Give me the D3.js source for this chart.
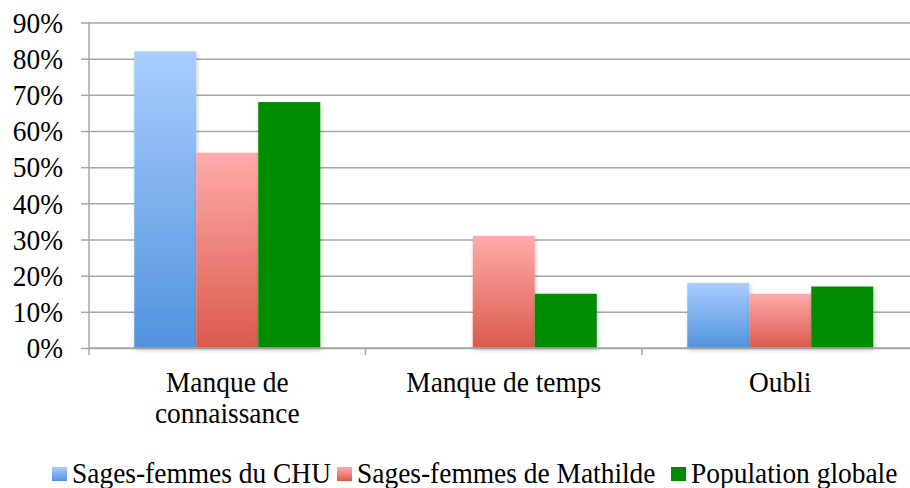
<!DOCTYPE html>
<html><head><meta charset="utf-8">
<script src="https://cdn.jsdelivr.net/npm/d3@7"></script>
<style>body{margin:0;background:#fff}svg{display:block}</style>
</head><body>
<svg id="c" width="910" height="488"></svg>
<script>
const categories = ["Manque de\nconnaissance", "Manque de temps", "Oubli"];
const seriesNames = ["Sages-femmes du CHU", "Sages-femmes de Mathilde", "Population globale"];
const chu = [82, 0, 18];
const mathilde = [54, 31, 15];
const population = [68, 15, 17];
const yTicks = [0, 10, 20, 30, 40, 50, 60, 70, 80, 90];

(function () {
const FONT = "Liberation Serif";
const svg = d3.select("#c");
let w = 0;
seriesNames.forEach(n => {
  const probe = svg.append("text").attr("font-family", FONT).attr("font-size", 20).text(n);
  w += probe.node().getComputedTextLength();
  probe.remove();
});
const fs = 20 * 764 / w;
const ky = Math.max(1, 19.5 / (0.66 * fs));

const pL = 89, pR = 918.5, pT = 22.5, pB = 348;
const x = d3.scaleBand().domain(categories).range([pL, pR]).paddingInner(0).paddingOuter(0);
const y = d3.scaleLinear().domain([0, 90]).range([pB, pT]);
const xs = d3.scaleBand().domain(seriesNames).range([0, x.bandwidth()]).paddingInner(0).paddingOuter(0.73);

const defs = svg.append("defs");
function grad(id, c1, c2) {
  const g = defs.append("linearGradient").attr("id", id).attr("x1", 0).attr("y1", 0).attr("x2", 0).attr("y2", 1);
  g.append("stop").attr("offset", "0%").attr("stop-color", c1);
  g.append("stop").attr("offset", "100%").attr("stop-color", c2);
}
grad("gBlue", "#aacdff", "#5193dc");
grad("gRed", "#ffabab", "#da5a4c");
grad("gGreen", "#008c00", "#008c00");
const f = defs.append("filter").attr("id", "sh").attr("x", "-20%").attr("y", "-20%").attr("width", "140%").attr("height", "140%");
f.append("feDropShadow").attr("dx", 1).attr("dy", 2).attr("stdDeviation", 2).attr("flood-color", "#000").attr("flood-opacity", 0.22);

const fills = ["url(#gBlue)", "url(#gRed)", "url(#gGreen)"];
const legendFills = ["url(#gBlue)", "url(#gRed)", "#008c00"];
const gridC = "#a6a6a6";

const yAxis = d3.axisLeft(y).tickValues(yTicks).tickSize(-(pR - pL)).tickPadding(26).tickFormat(d => d + "%");
const ga = svg.append("g").attr("transform", `translate(${pL},0)`).call(yAxis);
ga.select(".domain").remove();
ga.selectAll(".tick line").attr("stroke", gridC).attr("stroke-width", 1.5);
ga.selectAll(".tick").append("line").attr("x1", -8).attr("x2", 0).attr("stroke", gridC).attr("stroke-width", 1.5);
ga.selectAll(".tick text").attr("font-family", FONT).attr("font-size", fs).attr("fill", "#000")
  .attr("dy", null).attr("y", 0.33 * fs).attr("transform", `scale(1,${ky})`);

const data = [chu, mathilde, population];
categories.forEach((c, i) => {
  const g = svg.append("g").attr("transform", `translate(${x(c)},0)`);
  data.forEach((arr, s) => {
    if (arr[i] <= 0) return;
    g.append("rect")
      .attr("x", xs(seriesNames[s]))
      .attr("y", y(arr[i]))
      .attr("width", xs.bandwidth())
      .attr("height", y(0) - y(arr[i]))
      .attr("fill", fills[s])
      .attr("filter", "url(#sh)");
  });
});

svg.append("line").attr("x1", pL).attr("x2", pL).attr("y1", pT).attr("y2", pB + 7).attr("stroke", gridC).attr("stroke-width", 1.5);
svg.append("line").attr("x1", pL).attr("x2", pR).attr("y1", pB).attr("y2", pB).attr("stroke", gridC).attr("stroke-width", 1.5);
categories.forEach((c) => {
  const xx = x(c) + x.bandwidth();
  svg.append("line").attr("x1", xx).attr("x2", xx).attr("y1", pB).attr("y2", pB + 7).attr("stroke", gridC).attr("stroke-width", 1.5);
});
categories.forEach(c => {
  c.split("\n").forEach((l, k) => {
    svg.append("text").attr("transform", `translate(${x(c) + x.bandwidth() / 2},${392 + k * 31}) scale(1,${ky})`)
      .attr("text-anchor", "middle").attr("font-family", FONT).attr("font-size", fs).attr("fill", "#000").text(l);
  });
});

const lx = [52, 337, 671];
seriesNames.forEach((n, i) => {
  svg.append("rect").attr("x", lx[i]).attr("y", 467).attr("width", 15).attr("height", 14).attr("fill", legendFills[i]);
  svg.append("text").attr("transform", `translate(${lx[i] + 20},483) scale(1,${ky})`)
    .attr("font-family", FONT).attr("font-size", fs).attr("fill", "#000").text(n);
});
})();
</script>
</body></html>
